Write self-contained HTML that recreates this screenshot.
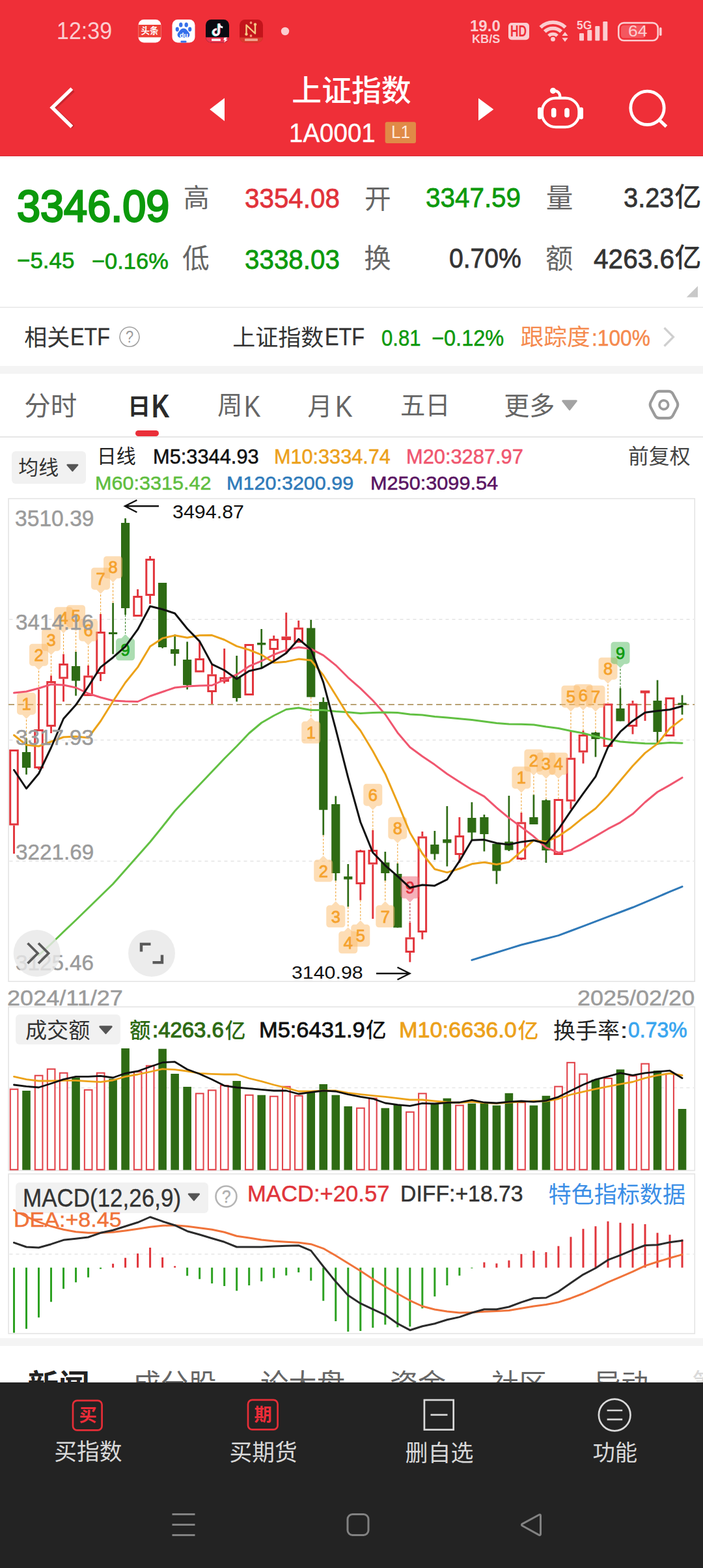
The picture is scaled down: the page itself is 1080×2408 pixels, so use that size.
<!DOCTYPE html>
<html lang="zh-CN"><head><meta charset="utf-8"><meta name="viewport" content="width=1080"><title>上证指数 1A0001</title><style>
html,body{margin:0;padding:0;background:#fff}
body{width:1080px;height:2408px;overflow:hidden;font-family:"Liberation Sans",sans-serif}
#p{position:relative;width:1080px;height:2408px;overflow:hidden;background:#fff}
.t{position:absolute;white-space:nowrap;line-height:1;transform-origin:0 0;display:block}
.r{position:absolute}
.s{position:absolute;overflow:visible;display:block}
.cj{position:absolute;overflow:visible}
.ct{position:absolute;left:0;top:0;white-space:nowrap;line-height:1;font-family:"Liberation Sans","Noto Sans CJK SC",sans-serif}
</style></head><body>
<div id="p">
<div class="r" style="left:0px;top:0px;width:1080px;height:239.5px;background:#EF2F38"></div>
<div class="r" style="left:0px;top:238.6px;width:1080px;height:1.2px;background:#D52B34"></div>
<span class="t" style="left:87.41px;top:29.56px;font-size:36.72px;color:#FBCDD0;transform:scaleX(0.9272)">12:39</span>
<svg class="s" style="left:205px;top:25px" width="245" height="46" viewBox="205 25 245 46">
<rect x="212.5" y="30" width="35" height="35.5" rx="8.5" fill="#fff"/>
<rect x="212.5" y="38" width="35" height="19.300" fill="#EE3F36"/>
<rect x="264.5" y="30" width="35" height="35.5" rx="8.5" fill="#fff"/>
<g fill="#3570EA"><ellipse cx="272.3" cy="45" rx="2.6" ry="3.4"/><ellipse cx="277.8" cy="38.2" rx="2.7" ry="3.6"/><ellipse cx="286.2" cy="38.2" rx="2.7" ry="3.6"/><ellipse cx="291.7" cy="45" rx="2.6" ry="3.4"/>
<path d="M282 43.5c3.6 0 5.2 3 7.2 5.2 2 2.300 2.900 4.200 1.700 6.700-1.200 2.500-4.300 2.700-8.900 2.700s-7.700-.2-8.900-2.700c-1.200-2.500-.3-4.400 1.700-6.700 2-2.200 3.600-5.200 7.200-5.200z"/><rect x="277.5" y="62.5" width="9" height="3" rx="1"/></g>
<rect x="316" y="30" width="36" height="35.500" rx="8.500" fill="#0B0B12"/>
<clipPath id="ctt"><rect x="316" y="30" width="36" height="35.500" rx="8.500"/></clipPath><rect x="316" y="57.300" width="36" height="9" fill="#E8344F" clip-path="url(#ctt)"/><rect x="325" y="59.600" width="14" height="3.400" rx="1" fill="#fff" opacity=".9"/><path d="M344.500 57.800l4.500-.3-2 3.200 2.500.2-5.500 4.500 1.500-3.600-2.300-.2z" fill="#fff"/>
<path d="M336.3 36v13.400a4.300 4.300 0 1 1-3.500-4.200" fill="none" stroke="#35E0E6" stroke-width="3.200" transform="translate(-1,.6)"/>
<path d="M336.3 36v13.400a4.300 4.300 0 1 1-3.500-4.200" fill="none" stroke="#F03A5A" stroke-width="3.200" transform="translate(.9,-.3)"/>
<path d="M336.300 36v13.400a4.300 4.300 0 1 1-3.500-4.200M336.300 36.500c.6 3.200 2.700 5.200 6 5.500" fill="none" stroke="#fff" stroke-width="3"/>
<rect x="368" y="30" width="36" height="35.500" rx="8.500" fill="#C3141B"/>
<clipPath id="cnn"><rect x="368" y="30" width="36" height="35.500" rx="8.500"/></clipPath><rect x="368" y="57.500" width="36" height="9" fill="#DA3A2E" clip-path="url(#cnn)"/>
<path d="M378.500 52.500v-14l13.500 13v-14" fill="none" stroke="#F6C884" stroke-width="2.400" stroke-linejoin="round" stroke-linecap="round"/>
<g fill="#F6C884"><circle cx="378.500" cy="52.500" r="2.200"/><circle cx="392" cy="37.500" r="2.200"/></g>
<g fill="#F59A78"><circle cx="385.500" cy="35" r="1.900"/><circle cx="385.500" cy="55" r="1.900"/></g>
<rect x="376" y="59.300" width="20" height="3.600" rx="1" fill="#F2B7A0" opacity=".85"/>
<circle cx="438" cy="48" r="6.200" fill="#FBCDD0"/>
</svg>
<div class="cj" style="left:216.5px;top:41.3px;width:27px;height:12.9px"><span class="ct" style="font-size:13.5px;color:#fff;font-weight:700">头条</span></div>
<span class="t" style="left:275.77px;top:48.62px;font-size:11.3px;color:#fff;transform:scaleX(0.9366);font-weight:700">du</span>
<span class="t" style="left:722.19px;top:28.44px;font-size:24.01px;color:#FBCDD0;transform:scaleX(1.0015);font-weight:700">19.0</span>
<span class="t" style="left:724.79px;top:50.79px;font-size:18.13px;color:#FBCDD0;transform:scaleX(1.0001);font-weight:700">KB/S</span>
<svg class="s" style="left:775px;top:25px" width="250" height="46" viewBox="775 25 250 46">
<rect x="781" y="35" width="32" height="26.300" rx="5" fill="#FBCDD0"/>
<g fill="none" stroke="#FBCDD0" stroke-width="5.600">
<path d="M830.400 41.900a27.500 27.500 0 0 1 38.200 0"/>
<path d="M836.800 48.600a18.300 18.300 0 0 1 25.400 0"/>
<path d="M842.900 55a9.500 9.500 0 0 1 13.200 0" stroke-width="5"/>
</g>
<circle cx="849.500" cy="60.200" r="3.400" fill="#FBCDD0"/>
<path d="M863.400 55l4.600-6 4.600 6zM863.400 58.300h9.200l-4.600 6z" fill="#FBCDD0"/>
<g fill="#FBCDD0"><rect x="890" y="51" width="7" height="11.500" rx="1.200"/><rect x="902.300" y="46" width="7" height="16.500" rx="1.200"/><rect x="914.300" y="40" width="7" height="22.500" rx="1.200"/><rect x="926.300" y="33" width="7" height="29.500" rx="1.200"/></g>
<rect x="950.300" y="35.100" width="60.500" height="27.200" rx="8" fill="none" stroke="#FBCDD0" stroke-width="2.600"/>
<rect x="954" y="38.800" width="37.500" height="19.800" rx="4.500" fill="#F4575F"/>
<rect x="1013" y="42" width="3.600" height="13" rx="1.800" fill="#FBCDD0"/>
</svg>
<span class="t" style="left:784.33px;top:36.61px;font-size:23.26px;color:#EF2F38;transform:scaleX(0.7502);font-weight:700">HD</span>
<span class="t" style="left:886.46px;top:28.55px;font-size:19.21px;color:#FBCDD0;transform:scaleX(0.9060);font-weight:700">5G</span>
<span class="t" style="left:965.25px;top:36.36px;font-size:24.58px;color:#FBCDD0;transform:scaleX(1.0801)">64</span>
<svg class="s" style="left:60px;top:110px" width="980" height="110" viewBox="60 110 980 110">
<polyline points="111.400,137.300 81.200,165.300 111.400,193.600" fill="none" stroke="#C9252E" stroke-width="6" transform="translate(1.200,1.500)"/>
<polyline points="110.400,136.100 80.200,165.200 110.400,194.800" fill="none" stroke="#fff" stroke-width="5.400"/>
<path d="M322.200 168L345 150.400V186z" fill="#fff"/>
<path d="M758.300 168L735 150.700V185.300z" fill="#fff"/>
<rect x="591.700" y="187.300" width="47.300" height="32.700" rx="3" fill="#E08A47"/>
<g fill="none" stroke="#fff" stroke-width="4.200" stroke-linecap="round">
<rect x="832.900" y="150.600" width="56.600" height="44.500" rx="21" ry="20"/>
<path d="M860.300 150.200c.5-6.500-2.800-10.600-9-10.800"/>
<path d="M850.700 169.500v7.200M871 169.500v7.200" stroke-width="7.600"/>
<path d="M829.200 168v12M892.800 168v12" stroke-width="6.400"/>
<circle cx="994.500" cy="165.800" r="25.700" stroke-width="4.800"/>
<path d="M1012.800 184.200l10.800 10.200" stroke-width="5" stroke-linecap="butt"/>
</g>
<circle cx="849.600" cy="139.300" r="4.600" fill="#fff"/>
</svg>
<div class="cj" style="left:448.3px;top:116.7px;width:183.4px;height:43.3px"><span class="ct" style="font-size:45.85px;color:#fff;font-weight:500">上证指数</span></div>
<span class="t" style="left:443.97px;top:183.51px;font-size:40.4px;color:#fff;transform:scaleX(0.9529);-webkit-text-stroke:0.4px #fff;paint-order:stroke fill">1A0001</span>
<span class="t" style="left:600.56px;top:190.06px;font-size:26.74px;color:#FFE9DC;transform:scaleX(0.9753)">L1</span>
<span class="t" style="left:25.63px;top:282.88px;font-size:68.93px;color:#0C990C;transform:scaleX(0.9406);-webkit-text-stroke:2.8px #0C990C;paint-order:stroke fill">3346.09</span>
<span class="t" style="left:25.93px;top:382.97px;font-size:35.83px;color:#0C990C;transform:scaleX(0.9761);-webkit-text-stroke:0.7px #0C990C;paint-order:stroke fill">−5.45</span>
<span class="t" style="left:141.35px;top:383.41px;font-size:35.31px;color:#0C990C;transform:scaleX(0.9759);-webkit-text-stroke:0.7px #0C990C;paint-order:stroke fill">−0.16%</span>
<div class="cj" style="left:281.7px;top:284px;width:40px;height:41px"><span class="ct" style="font-size:40px;color:#666666">高</span></div>
<div class="cj" style="left:280px;top:377.3px;width:41.7px;height:41px"><span class="ct" style="font-size:41.7px;color:#666666">低</span></div>
<span class="t" style="left:376.16px;top:283.29px;font-size:43.22px;color:#E1323A;transform:scaleX(0.9338);-webkit-text-stroke:0.8px #E1323A;paint-order:stroke fill">3354.08</span>
<span class="t" style="left:376.16px;top:376.71px;font-size:43.08px;color:#0C990C;transform:scaleX(0.9370);-webkit-text-stroke:0.8px #0C990C;paint-order:stroke fill">3338.03</span>
<div class="cj" style="left:560px;top:286px;width:40.7px;height:39px"><span class="ct" style="font-size:40.7px;color:#666666">开</span></div>
<div class="cj" style="left:559.3px;top:377.3px;width:41.4px;height:41px"><span class="ct" style="font-size:41.4px;color:#666666">换</span></div>
<span class="t" style="left:654.36px;top:282.49px;font-size:43.22px;color:#0C990C;transform:scaleX(0.9349);-webkit-text-stroke:0.8px #0C990C;paint-order:stroke fill">3347.59</span>
<span class="t" style="left:689.77px;top:376.36px;font-size:42.09px;color:#333333;transform:scaleX(0.9294);-webkit-text-stroke:0.8px #333333;paint-order:stroke fill">0.70%</span>
<div class="cj" style="left:838.8px;top:284.4px;width:41.6px;height:40px"><span class="ct" style="font-size:41.6px;color:#666666">量</span></div>
<div class="cj" style="left:838px;top:377.3px;width:42.4px;height:39.6px"><span class="ct" style="font-size:42.4px;color:#666666">额</span></div>
<span class="t" style="left:957.88px;top:282.47px;font-size:43.36px;color:#333333;transform:scaleX(0.9179);-webkit-text-stroke:0.8px #333333;paint-order:stroke fill">3.23</span>
<div class="cj" style="left:1036.3px;top:283px;width:41.2px;height:41.7px"><span class="ct" style="font-size:41.2px;color:#333333;font-weight:500">亿</span></div>
<span class="t" style="left:911.67px;top:376.21px;font-size:43.08px;color:#333333;transform:scaleX(0.9420);-webkit-text-stroke:0.8px #333333;paint-order:stroke fill">4263.6</span>
<div class="cj" style="left:1036.3px;top:376.2px;width:41.2px;height:41.3px"><span class="ct" style="font-size:41.2px;color:#333333;font-weight:500">亿</span></div>
<svg class="s" style="left:1050px;top:436px" width="26" height="24" viewBox="1050 436 26 24"><path d="M1072 439.300V456.400H1054.700z" fill="#C8C8C8"/></svg>
<div class="r" style="left:0px;top:471px;width:1080px;height:2px;background:#EDEDED"></div>
<div class="cj" style="left:37.3px;top:500.7px;width:70px;height:34.3px"><span class="ct" style="font-size:35px;color:#333333">相关</span></div>
<span class="t" style="left:107.56px;top:499.85px;font-size:36.92px;color:#333333;transform:scaleX(0.8724);-webkit-text-stroke:0.4px #333333;paint-order:stroke fill">ETF</span>
<svg class="s" style="left:180px;top:498px" width="40" height="40" viewBox="180 498 40 40"><circle cx="199" cy="517.300" r="15" fill="none" stroke="#A0A0A0" stroke-width="1.600"/></svg>
<span class="t" style="left:192.91px;top:504.54px;font-size:25.35px;color:#9A9A9A;transform:scaleX(0.8582)">?</span>
<div class="cj" style="left:357.3px;top:500.7px;width:140px;height:34.3px"><span class="ct" style="font-size:35px;color:#333333">上证指数</span></div>
<span class="t" style="left:499.24px;top:499.85px;font-size:36.92px;color:#333333;transform:scaleX(0.8770);-webkit-text-stroke:0.4px #333333;paint-order:stroke fill">ETF</span>
<span class="t" style="left:585.74px;top:501.82px;font-size:34.6px;color:#0C990C;transform:scaleX(0.8988);-webkit-text-stroke:0.5px #0C990C;paint-order:stroke fill">0.81</span>
<span class="t" style="left:662.65px;top:501.54px;font-size:34.46px;color:#0C990C;transform:scaleX(0.9442);-webkit-text-stroke:0.5px #0C990C;paint-order:stroke fill">−0.12%</span>
<div class="cj" style="left:799.5px;top:501.4px;width:108.9px;height:33.1px"><span class="ct" style="font-size:35.78px;color:#F58A4E">跟踪度</span></div>
<span class="t" style="left:908.86px;top:501.54px;font-size:34.46px;color:#F58A4E;transform:scaleX(0.9192);-webkit-text-stroke:0.5px #F58A4E;paint-order:stroke fill">:100%</span>
<svg class="s" style="left:1010px;top:495px" width="40" height="45" viewBox="1010 495 40 45"><polyline points="1020.500,503.500 1034.500,517.500 1020.500,531.500" fill="none" stroke="#CFCFCF" stroke-width="3.200"/></svg>
<div class="r" style="left:0px;top:562px;width:1080px;height:12px;background:#F4F4F4"></div>
<div class="cj" style="left:37.3px;top:604px;width:81px;height:38.7px"><span class="ct" style="font-size:40.5px;color:#666666">分时</span></div>
<div class="cj" style="left:198.3px;top:606.7px;width:31px;height:35px"><span class="ct" style="font-size:35px;color:#2A2A2A;font-weight:700;left:-2px">日</span></div>
<span class="t" style="left:233.44px;top:599.71px;font-size:49.13px;color:#2A2A2A;transform:scaleX(0.7783);font-weight:700">K</span>
<div class="r" style="left:208.3px;top:660.7px;width:35.7px;height:9.3px;background:#EA2F39;border-radius:5px"></div>
<div class="cj" style="left:334px;top:604px;width:38.5px;height:39px"><span class="ct" style="font-size:38.5px;color:#666666">周</span></div>
<span class="t" style="left:375.35px;top:601.06px;font-size:46.95px;color:#666666;transform:scaleX(0.8168)">K</span>
<div class="cj" style="left:475px;top:604.7px;width:33px;height:38.3px"><span class="ct" style="font-size:38px;color:#666666;left:-2.500px">月</span></div>
<span class="t" style="left:515.21px;top:601.06px;font-size:46.95px;color:#666666;transform:scaleX(0.8539)">K</span>
<div class="cj" style="left:615px;top:606px;width:76.7px;height:35px"><span class="ct" style="font-size:38.35px;color:#666666;top:-2px">五日</span></div>
<div class="cj" style="left:774.2px;top:603.8px;width:78.2px;height:39.7px"><span class="ct" style="font-size:39.1px;color:#666666">更多</span></div>
<svg class="s" style="left:860px;top:595px" width="200" height="55" viewBox="860 595 200 55">
<path d="M864.700 614.200h20.600a1.500 1.500 0 0 1 1.200 2.400l-10.200 13a1.600 1.600 0 0 1-2.600 0l-10.200-13a1.500 1.500 0 0 1 1.200-2.400z" fill="#A3A3A3"/>
<path d="M999.9 625.9Q997.6 621.5 999.9 617.1L1006.1 605.3Q1008.4 600.9 1013.4 600.9L1026.6 600.9Q1031.6 600.9 1033.9 605.3L1040.1 617.1Q1042.4 621.5 1040.1 625.9L1033.9 637.7Q1031.6 642.1 1026.6 642.1L1013.4 642.1Q1008.4 642.1 1006.1 637.7Z" fill="none" stroke="#9B9B9B" stroke-width="4.200"/>
<circle cx="1019.800" cy="621.700" r="6.800" fill="none" stroke="#9B9B9B" stroke-width="3.800"/>
</svg>
<div class="r" style="left:0px;top:670px;width:1080px;height:1.5px;background:#E6E6E6"></div>
<div class="r" style="left:18.3px;top:693.3px;width:113.4px;height:49.4px;background:#F1F1F1;border-radius:6px"></div>
<div class="cj" style="left:28.3px;top:704px;width:61.7px;height:31px"><span class="ct" style="font-size:30.85px;color:#333333">均线</span></div>
<svg class="s" style="left:98px;top:706px" width="28" height="24" viewBox="98 706 28 24"><path d="M103.600 712.700h15.600a1.200 1.200 0 0 1 .9 2l-7.800 9a1.200 1.200 0 0 1-1.800 0l-7.800-9a1.200 1.200 0 0 1 .9-2z" fill="#555"/></svg>
<div class="cj" style="left:151.7px;top:687.3px;width:57.600px;height:27.7px"><span class="ct" style="font-size:30px;color:#222;left:-3px;top:-1px">日线</span></div>
<span class="t" style="left:235.05px;top:685.64px;font-size:31.28px;color:#111;transform:scaleX(0.9848);-webkit-text-stroke:0.55px #111;paint-order:stroke fill">M5:3344.93</span>
<span class="t" style="left:421.06px;top:685.64px;font-size:31.28px;color:#ECA11B;transform:scaleX(0.9793);-webkit-text-stroke:0.55px #ECA11B;paint-order:stroke fill">M10:3334.74</span>
<span class="t" style="left:624.05px;top:685.64px;font-size:31.28px;color:#F0566F;transform:scaleX(0.9852);-webkit-text-stroke:0.55px #F0566F;paint-order:stroke fill">M20:3287.97</span>
<div class="cj" style="left:965px;top:685.5px;width:95.5px;height:30.5px"><span class="ct" style="font-size:31.83px;color:#444">前复权</span></div>
<span class="t" style="left:146.07px;top:727.03px;font-size:30.01px;color:#60BE3F;transform:scaleX(1.0187);-webkit-text-stroke:0.55px #60BE3F;paint-order:stroke fill">M60:3315.42</span>
<span class="t" style="left:348.47px;top:727.03px;font-size:30.01px;color:#2F7BBA;transform:scaleX(1.0182);-webkit-text-stroke:0.55px #2F7BBA;paint-order:stroke fill">M120:3200.99</span>
<span class="t" style="left:568.76px;top:727.03px;font-size:30.01px;color:#5A1462;transform:scaleX(1.0222);-webkit-text-stroke:0.55px #5A1462;paint-order:stroke fill">M250:3099.54</span>
<svg class="s" style="left:0px;top:760px" width="1080" height="760" viewBox="0 760 1080 760"><g font-family="Liberation Sans, sans-serif" font-size="25.500" text-anchor="middle"><rect x="13.100" y="765.700" width="1054.200" height="741.500" fill="none" stroke="#E4E4E4" stroke-width="1.600"/><line x1="14.500" x2="1066" y1="951.2" y2="951.2" stroke="#E3E3E3" stroke-width="1.400" stroke-dasharray="5 5"/><line x1="14.500" x2="1066" y1="1136.5" y2="1136.5" stroke="#E3E3E3" stroke-width="1.400" stroke-dasharray="5 5"/><line x1="14.500" x2="1066" y1="1322.5" y2="1322.5" stroke="#E3E3E3" stroke-width="1.400" stroke-dasharray="5 5"/><line x1="13" x2="1067" y1="1082" y2="1082" stroke="#B9A173" stroke-width="2" stroke-dasharray="9 5.600"/><line x1="21.5" x2="21.5" y1="1267.5" y2="1311" stroke="#E2353C" stroke-width="2.900"/><rect x="15.7" y="1152.5" width="11.600" height="113.5" fill="#fff" stroke="#E2353C" stroke-width="3"/><line x1="40.51" x2="40.51" y1="1134" y2="1189.5" stroke="#2E6B14" stroke-width="2.700"/><rect x="33.91" y="1155" width="13.200" height="24" fill="#2E6B14"/><line x1="59.52" x2="59.52" y1="1059" y2="1120" stroke="#E2353C" stroke-width="2.900"/><line x1="59.52" x2="59.52" y1="1180" y2="1182" stroke="#E2353C" stroke-width="2.900"/><rect x="53.72" y="1121.5" width="11.600" height="57" fill="#fff" stroke="#E2353C" stroke-width="3"/><line x1="78.53" x2="78.53" y1="1037.5" y2="1046" stroke="#E2353C" stroke-width="2.900"/><line x1="78.53" x2="78.53" y1="1116" y2="1126" stroke="#E2353C" stroke-width="2.900"/><rect x="72.73" y="1047.5" width="11.600" height="67" fill="#fff" stroke="#E2353C" stroke-width="3"/><line x1="97.54" x2="97.54" y1="1004.5" y2="1019" stroke="#E2353C" stroke-width="2.900"/><line x1="97.54" x2="97.54" y1="1042.5" y2="1077.5" stroke="#E2353C" stroke-width="2.900"/><rect x="91.74" y="1020.5" width="11.600" height="20.5" fill="#fff" stroke="#E2353C" stroke-width="3"/><line x1="116.55" x2="116.55" y1="1001" y2="1068.5" stroke="#2E6B14" stroke-width="2.700"/><rect x="109.95" y="1023" width="13.200" height="22.5" fill="#2E6B14"/><line x1="135.56" x2="135.56" y1="1022" y2="1037.5" stroke="#E2353C" stroke-width="2.900"/><rect x="129.76" y="1039" width="11.600" height="28.5" fill="#fff" stroke="#E2353C" stroke-width="3"/><line x1="154.57" x2="154.57" y1="943" y2="970" stroke="#E2353C" stroke-width="2.900"/><line x1="154.57" x2="154.57" y1="1035" y2="1046" stroke="#E2353C" stroke-width="2.900"/><rect x="148.77" y="971.5" width="11.600" height="62" fill="#fff" stroke="#E2353C" stroke-width="3"/><line x1="173.58" x2="173.58" y1="926" y2="1004.5" stroke="#2E6B14" stroke-width="2.700"/><rect x="166.98" y="971" width="13.200" height="3" fill="#2E6B14"/><line x1="192.59" x2="192.59" y1="796" y2="944" stroke="#2E6B14" stroke-width="2.700"/><rect x="185.99" y="803" width="13.200" height="131" fill="#2E6B14"/><line x1="211.6" x2="211.6" y1="905" y2="915" stroke="#E2353C" stroke-width="2.900"/><rect x="205.8" y="916.5" width="11.600" height="29" fill="#fff" stroke="#E2353C" stroke-width="3"/><line x1="230.61" x2="230.61" y1="854" y2="858" stroke="#E2353C" stroke-width="2.900"/><line x1="230.61" x2="230.61" y1="915" y2="927.5" stroke="#E2353C" stroke-width="2.900"/><rect x="224.81" y="859.5" width="11.600" height="54" fill="#fff" stroke="#E2353C" stroke-width="3"/><line x1="249.62" x2="249.62" y1="895" y2="995.5" stroke="#2E6B14" stroke-width="2.700"/><rect x="243.02" y="895" width="13.200" height="99" fill="#2E6B14"/><line x1="268.63" x2="268.63" y1="974.5" y2="1022.5" stroke="#2E6B14" stroke-width="2.700"/><rect x="262.03" y="997" width="13.200" height="7" fill="#2E6B14"/><line x1="287.64" x2="287.64" y1="985.5" y2="1058.75" stroke="#2E6B14" stroke-width="2.700"/><rect x="281.04" y="1013" width="13.200" height="39" fill="#2E6B14"/><line x1="306.65" x2="306.65" y1="985" y2="1011" stroke="#E2353C" stroke-width="2.900"/><rect x="300.85" y="1012.5" width="11.600" height="18.5" fill="#fff" stroke="#E2353C" stroke-width="3"/><line x1="325.66" x2="325.66" y1="1021" y2="1035.5" stroke="#E2353C" stroke-width="2.900"/><line x1="325.66" x2="325.66" y1="1063" y2="1081" stroke="#E2353C" stroke-width="2.900"/><rect x="319.86" y="1037" width="11.600" height="24.5" fill="#fff" stroke="#E2353C" stroke-width="3"/><line x1="344.67" x2="344.67" y1="996" y2="1040" stroke="#E2353C" stroke-width="2.900"/><line x1="344.67" x2="344.67" y1="1047" y2="1049.5" stroke="#E2353C" stroke-width="2.900"/><rect x="338.87" y="1041.5" width="11.600" height="4" fill="#fff" stroke="#E2353C" stroke-width="3"/><line x1="363.68" x2="363.68" y1="1007" y2="1077.5" stroke="#2E6B14" stroke-width="2.700"/><rect x="357.08" y="1040" width="13.200" height="32" fill="#2E6B14"/><rect x="376.89" y="990.5" width="11.600" height="76" fill="#fff" stroke="#E2353C" stroke-width="3"/><line x1="401.7" x2="401.7" y1="966" y2="1026" stroke="#2E6B14" stroke-width="2.700"/><rect x="395.1" y="987" width="13.200" height="3.5" fill="#2E6B14"/><line x1="420.71" x2="420.71" y1="976" y2="981" stroke="#E2353C" stroke-width="2.900"/><line x1="420.71" x2="420.71" y1="998" y2="1015" stroke="#E2353C" stroke-width="2.900"/><rect x="414.91" y="982.5" width="11.600" height="14" fill="#fff" stroke="#E2353C" stroke-width="3"/><line x1="439.72" x2="439.72" y1="940.75" y2="977.5" stroke="#E2353C" stroke-width="2.900"/><line x1="439.72" x2="439.72" y1="983" y2="1003.75" stroke="#E2353C" stroke-width="2.900"/><rect x="433.92" y="979" width="11.600" height="2.5" fill="#fff" stroke="#E2353C" stroke-width="3"/><line x1="458.73" x2="458.73" y1="953" y2="963.75" stroke="#E2353C" stroke-width="2.900"/><rect x="452.93" y="965.25" width="11.600" height="20.25" fill="#fff" stroke="#E2353C" stroke-width="3"/><line x1="477.74" x2="477.74" y1="952" y2="1070.5" stroke="#2E6B14" stroke-width="2.700"/><rect x="471.14" y="964.5" width="13.200" height="106" fill="#2E6B14"/><line x1="496.75" x2="496.75" y1="1071" y2="1282.5" stroke="#2E6B14" stroke-width="2.700"/><rect x="490.15" y="1078" width="13.200" height="165.75" fill="#2E6B14"/><line x1="515.76" x2="515.76" y1="1222.5" y2="1352.5" stroke="#2E6B14" stroke-width="2.700"/><rect x="509.16" y="1235" width="13.200" height="106" fill="#2E6B14"/><line x1="534.77" x2="534.77" y1="1327" y2="1392.5" stroke="#2E6B14" stroke-width="2.700"/><rect x="528.17" y="1346" width="13.200" height="4.5" fill="#2E6B14"/><line x1="553.78" x2="553.78" y1="1305" y2="1306" stroke="#E2353C" stroke-width="2.900"/><line x1="553.78" x2="553.78" y1="1358" y2="1382.5" stroke="#E2353C" stroke-width="2.900"/><rect x="547.98" y="1307.5" width="11.600" height="49" fill="#fff" stroke="#E2353C" stroke-width="3"/><line x1="572.79" x2="572.79" y1="1275" y2="1305" stroke="#E2353C" stroke-width="2.900"/><line x1="572.79" x2="572.79" y1="1327.5" y2="1411" stroke="#E2353C" stroke-width="2.900"/><rect x="566.99" y="1306.5" width="11.600" height="19.5" fill="#fff" stroke="#E2353C" stroke-width="3"/><line x1="591.8" x2="591.8" y1="1308" y2="1352.5" stroke="#2E6B14" stroke-width="2.700"/><rect x="585.2" y="1324.5" width="13.200" height="16.5" fill="#2E6B14"/><line x1="610.81" x2="610.81" y1="1326" y2="1424.5" stroke="#2E6B14" stroke-width="2.700"/><rect x="604.21" y="1342" width="13.200" height="82.5" fill="#2E6B14"/><line x1="629.82" x2="629.82" y1="1417" y2="1439.5" stroke="#E2353C" stroke-width="2.900"/><line x1="629.82" x2="629.82" y1="1463" y2="1477.5" stroke="#E2353C" stroke-width="2.900"/><rect x="624.02" y="1441" width="11.600" height="20.5" fill="#fff" stroke="#E2353C" stroke-width="3"/><line x1="648.83" x2="648.83" y1="1277" y2="1284.5" stroke="#E2353C" stroke-width="2.900"/><line x1="648.83" x2="648.83" y1="1432" y2="1442.5" stroke="#E2353C" stroke-width="2.900"/><rect x="643.03" y="1286" width="11.600" height="144.5" fill="#fff" stroke="#E2353C" stroke-width="3"/><line x1="667.84" x2="667.84" y1="1276" y2="1320.5" stroke="#2E6B14" stroke-width="2.700"/><rect x="661.24" y="1297" width="13.200" height="14.5" fill="#2E6B14"/><line x1="686.85" x2="686.85" y1="1238" y2="1330.5" stroke="#2E6B14" stroke-width="2.700"/><rect x="680.25" y="1289" width="13.200" height="5.5" fill="#2E6B14"/><line x1="705.86" x2="705.86" y1="1255" y2="1283" stroke="#E2353C" stroke-width="2.900"/><line x1="705.86" x2="705.86" y1="1313" y2="1325" stroke="#E2353C" stroke-width="2.900"/><rect x="700.06" y="1284.5" width="11.600" height="27" fill="#fff" stroke="#E2353C" stroke-width="3"/><line x1="724.87" x2="724.87" y1="1232" y2="1289.5" stroke="#2E6B14" stroke-width="2.700"/><rect x="718.27" y="1256" width="13.200" height="22.5" fill="#2E6B14"/><line x1="743.88" x2="743.88" y1="1251" y2="1307.5" stroke="#2E6B14" stroke-width="2.700"/><rect x="737.28" y="1255" width="13.200" height="26" fill="#2E6B14"/><line x1="762.89" x2="762.89" y1="1296" y2="1357.5" stroke="#2E6B14" stroke-width="2.700"/><rect x="756.29" y="1296" width="13.200" height="41.5" fill="#2E6B14"/><line x1="781.9" x2="781.9" y1="1222" y2="1307" stroke="#2E6B14" stroke-width="2.700"/><rect x="775.3" y="1292.5" width="13.200" height="13" fill="#2E6B14"/><line x1="800.91" x2="800.91" y1="1248" y2="1262.5" stroke="#E2353C" stroke-width="2.900"/><line x1="800.91" x2="800.91" y1="1320" y2="1321" stroke="#E2353C" stroke-width="2.900"/><rect x="795.11" y="1264" width="11.600" height="54.5" fill="#fff" stroke="#E2353C" stroke-width="3"/><line x1="819.92" x2="819.92" y1="1220.5" y2="1266" stroke="#2E6B14" stroke-width="2.700"/><rect x="813.32" y="1255" width="13.200" height="11" fill="#2E6B14"/><line x1="838.93" x2="838.93" y1="1227.5" y2="1325" stroke="#2E6B14" stroke-width="2.700"/><rect x="832.33" y="1229" width="13.200" height="77" fill="#2E6B14"/><rect x="852.14" y="1228.5" width="11.600" height="83" fill="#fff" stroke="#E2353C" stroke-width="3"/><line x1="876.95" x2="876.95" y1="1122.5" y2="1163.75" stroke="#E2353C" stroke-width="2.900"/><line x1="876.95" x2="876.95" y1="1230.75" y2="1242.5" stroke="#E2353C" stroke-width="2.900"/><rect x="871.15" y="1165.25" width="11.600" height="64" fill="#fff" stroke="#E2353C" stroke-width="3"/><line x1="895.96" x2="895.96" y1="1122" y2="1128" stroke="#E2353C" stroke-width="2.900"/><line x1="895.96" x2="895.96" y1="1155.5" y2="1172.5" stroke="#E2353C" stroke-width="2.900"/><rect x="890.16" y="1129.5" width="11.600" height="24.5" fill="#fff" stroke="#E2353C" stroke-width="3"/><line x1="914.97" x2="914.97" y1="1124" y2="1162.5" stroke="#2E6B14" stroke-width="2.700"/><rect x="908.37" y="1125" width="13.200" height="10" fill="#2E6B14"/><rect x="928.18" y="1082" width="11.600" height="63.5" fill="#fff" stroke="#E2353C" stroke-width="3"/><line x1="952.99" x2="952.99" y1="1057" y2="1107.5" stroke="#2E6B14" stroke-width="2.700"/><rect x="946.39" y="1088" width="13.200" height="19.5" fill="#2E6B14"/><line x1="972" x2="972" y1="1076" y2="1080.5" stroke="#E2353C" stroke-width="2.900"/><line x1="972" x2="972" y1="1116" y2="1127.5" stroke="#E2353C" stroke-width="2.900"/><rect x="966.2" y="1082" width="11.600" height="32.5" fill="#fff" stroke="#E2353C" stroke-width="3"/><line x1="991.01" x2="991.01" y1="1064" y2="1107" stroke="#E2353C" stroke-width="2.900"/><rect x="983.71" y="1060.4" width="14.600" height="4.2" fill="#E2353C"/><line x1="1010.02" x2="1010.02" y1="1044.5" y2="1143.75" stroke="#2E6B14" stroke-width="2.700"/><rect x="1003.42" y="1076" width="13.200" height="48" fill="#2E6B14"/><rect x="1023.23" y="1072.5" width="11.600" height="57" fill="#fff" stroke="#E2353C" stroke-width="3"/><line x1="1048.04" x2="1048.04" y1="1067.5" y2="1097.5" stroke="#2E6B14" stroke-width="2.700"/><rect x="1041.44" y="1079.5" width="13.200" height="3" fill="#2E6B14"/><line x1="40.51" x2="40.51" y1="1105" y2="1134" stroke="#F0A63A" stroke-width="1.100" stroke-dasharray="3.200 2.200"/><path d="M30.81 1063.7h19.400a4.800 4.800 0 0 1 4.800 4.800v24.400a4.800 4.800 0 0 1-4.800 4.800h-3.600l-6.100 6.300-6.100-6.300h-3.600a4.800 4.800 0 0 1-4.800-4.800v-24.400a4.800 4.800 0 0 1 4.800-4.800z" fill="rgba(252,188,108,.5)"/><line x1="59.52" x2="59.52" y1="1030" y2="1059" stroke="#F0A63A" stroke-width="1.100" stroke-dasharray="3.200 2.200"/><path d="M49.82 988.7h19.400a4.800 4.800 0 0 1 4.800 4.800v24.400a4.800 4.800 0 0 1-4.800 4.800h-3.600l-6.100 6.300-6.100-6.300h-3.600a4.800 4.800 0 0 1-4.800-4.800v-24.400a4.800 4.800 0 0 1 4.800-4.800z" fill="rgba(252,188,108,.5)"/><line x1="78.53" x2="78.53" y1="1007" y2="1037.5" stroke="#F0A63A" stroke-width="1.100" stroke-dasharray="3.200 2.200"/><path d="M68.83 965.7h19.400a4.800 4.800 0 0 1 4.800 4.800v24.400a4.800 4.800 0 0 1-4.800 4.800h-3.600l-6.100 6.300-6.100-6.300h-3.600a4.800 4.800 0 0 1-4.800-4.800v-24.400a4.800 4.800 0 0 1 4.800-4.800z" fill="rgba(252,188,108,.5)"/><line x1="97.54" x2="97.54" y1="973.5" y2="1004.5" stroke="#F0A63A" stroke-width="1.100" stroke-dasharray="3.200 2.200"/><path d="M87.84 932.2h19.400a4.800 4.800 0 0 1 4.800 4.800v24.400a4.800 4.800 0 0 1-4.800 4.800h-3.600l-6.100 6.300-6.100-6.300h-3.600a4.800 4.800 0 0 1-4.800-4.800v-24.400a4.800 4.800 0 0 1 4.800-4.800z" fill="rgba(252,188,108,.5)"/><line x1="116.55" x2="116.55" y1="970.5" y2="1001" stroke="#F0A63A" stroke-width="1.100" stroke-dasharray="3.200 2.200"/><path d="M106.85 929.2h19.400a4.800 4.800 0 0 1 4.800 4.800v24.400a4.800 4.800 0 0 1-4.800 4.800h-3.600l-6.100 6.300-6.100-6.300h-3.600a4.800 4.800 0 0 1-4.800-4.800v-24.400a4.800 4.800 0 0 1 4.800-4.800z" fill="rgba(252,188,108,.5)"/><line x1="135.56" x2="135.56" y1="992" y2="1022" stroke="#F0A63A" stroke-width="1.100" stroke-dasharray="3.200 2.200"/><path d="M125.86 950.7h19.400a4.800 4.800 0 0 1 4.800 4.800v24.400a4.800 4.800 0 0 1-4.800 4.800h-3.600l-6.100 6.300-6.100-6.300h-3.600a4.800 4.800 0 0 1-4.800-4.800v-24.400a4.800 4.800 0 0 1 4.800-4.800z" fill="rgba(252,188,108,.5)"/><line x1="154.57" x2="154.57" y1="913" y2="943" stroke="#F0A63A" stroke-width="1.100" stroke-dasharray="3.200 2.200"/><path d="M144.87 871.7h19.400a4.800 4.800 0 0 1 4.800 4.800v24.400a4.800 4.800 0 0 1-4.800 4.800h-3.600l-6.100 6.300-6.100-6.300h-3.600a4.800 4.800 0 0 1-4.800-4.800v-24.400a4.800 4.800 0 0 1 4.800-4.800z" fill="rgba(252,188,108,.5)"/><line x1="173.58" x2="173.58" y1="895.5" y2="926" stroke="#F0A63A" stroke-width="1.100" stroke-dasharray="3.200 2.200"/><path d="M163.88 854.2h19.400a4.800 4.800 0 0 1 4.800 4.800v24.400a4.800 4.800 0 0 1-4.800 4.800h-3.600l-6.100 6.300-6.100-6.300h-3.600a4.800 4.800 0 0 1-4.800-4.800v-24.400a4.800 4.800 0 0 1 4.800-4.800z" fill="rgba(252,188,108,.5)"/><line x1="192.59" x2="192.59" y1="944" y2="973" stroke="#2E7D1E" stroke-width="1.100" stroke-dasharray="3.200 2.200"/><path d="M182.89 1014.3h19.400a4.800 4.800 0 0 0 4.800-4.800v-24.400a4.800 4.800 0 0 0-4.800-4.800h-3.600l-6.100-6.300-6.100 6.300h-3.600a4.800 4.800 0 0 0-4.800 4.800v24.400a4.800 4.800 0 0 0 4.800 4.800z" fill="rgba(88,188,100,.5)"/><line x1="477.74" x2="477.74" y1="1070.5" y2="1100.5" stroke="#F0A63A" stroke-width="1.100" stroke-dasharray="3.200 2.200"/><path d="M468.04 1141.8h19.400a4.800 4.800 0 0 0 4.800-4.800v-24.400a4.800 4.800 0 0 0-4.800-4.800h-3.600l-6.100-6.300-6.100 6.300h-3.600a4.800 4.800 0 0 0-4.800 4.800v24.400a4.800 4.800 0 0 0 4.800 4.800z" fill="rgba(252,188,108,.5)"/><line x1="496.75" x2="496.75" y1="1282.5" y2="1313" stroke="#F0A63A" stroke-width="1.100" stroke-dasharray="3.200 2.200"/><path d="M487.05 1354.3h19.400a4.800 4.800 0 0 0 4.800-4.800v-24.400a4.800 4.800 0 0 0-4.800-4.800h-3.600l-6.100-6.300-6.100 6.300h-3.600a4.800 4.800 0 0 0-4.800 4.800v24.400a4.800 4.800 0 0 0 4.800 4.800z" fill="rgba(252,188,108,.5)"/><line x1="515.76" x2="515.76" y1="1352.5" y2="1383" stroke="#F0A63A" stroke-width="1.100" stroke-dasharray="3.200 2.200"/><path d="M506.06 1424.3h19.400a4.800 4.800 0 0 0 4.800-4.800v-24.400a4.800 4.800 0 0 0-4.800-4.800h-3.600l-6.100-6.300-6.100 6.300h-3.600a4.800 4.800 0 0 0-4.800 4.800v24.400a4.800 4.800 0 0 0 4.800 4.800z" fill="rgba(252,188,108,.5)"/><line x1="534.77" x2="534.77" y1="1392.5" y2="1423" stroke="#F0A63A" stroke-width="1.100" stroke-dasharray="3.200 2.200"/><path d="M525.07 1464.3h19.400a4.800 4.800 0 0 0 4.800-4.800v-24.400a4.800 4.800 0 0 0-4.800-4.800h-3.600l-6.100-6.300-6.100 6.300h-3.600a4.800 4.800 0 0 0-4.800 4.800v24.400a4.800 4.800 0 0 0 4.800 4.800z" fill="rgba(252,188,108,.5)"/><line x1="553.78" x2="553.78" y1="1382.5" y2="1412.5" stroke="#F0A63A" stroke-width="1.100" stroke-dasharray="3.200 2.200"/><path d="M544.08 1453.8h19.400a4.800 4.800 0 0 0 4.800-4.800v-24.400a4.800 4.800 0 0 0-4.800-4.800h-3.600l-6.100-6.300-6.100 6.300h-3.600a4.800 4.800 0 0 0-4.800 4.800v24.400a4.800 4.800 0 0 0 4.800 4.800z" fill="rgba(252,188,108,.5)"/><line x1="572.79" x2="572.79" y1="1245" y2="1275" stroke="#F0A63A" stroke-width="1.100" stroke-dasharray="3.200 2.200"/><path d="M563.09 1203.7h19.400a4.800 4.800 0 0 1 4.800 4.800v24.400a4.800 4.800 0 0 1-4.800 4.800h-3.600l-6.100 6.300-6.100-6.300h-3.600a4.800 4.800 0 0 1-4.800-4.800v-24.400a4.800 4.800 0 0 1 4.800-4.800z" fill="rgba(252,188,108,.5)"/><line x1="591.8" x2="591.8" y1="1352.5" y2="1383" stroke="#F0A63A" stroke-width="1.100" stroke-dasharray="3.200 2.200"/><path d="M582.1 1424.3h19.400a4.800 4.800 0 0 0 4.800-4.800v-24.400a4.800 4.800 0 0 0-4.800-4.800h-3.600l-6.100-6.300-6.100 6.300h-3.600a4.800 4.800 0 0 0-4.800 4.800v24.400a4.800 4.800 0 0 0 4.800 4.800z" fill="rgba(252,188,108,.5)"/><line x1="610.81" x2="610.81" y1="1296" y2="1326" stroke="#F0A63A" stroke-width="1.100" stroke-dasharray="3.200 2.200"/><path d="M601.11 1254.7h19.400a4.800 4.800 0 0 1 4.800 4.800v24.400a4.800 4.800 0 0 1-4.800 4.800h-3.600l-6.100 6.300-6.100-6.300h-3.600a4.800 4.800 0 0 1-4.800-4.800v-24.400a4.800 4.800 0 0 1 4.800-4.800z" fill="rgba(252,188,108,.5)"/><line x1="629.82" x2="629.82" y1="1387" y2="1417" stroke="#B5303A" stroke-width="1.100" stroke-dasharray="3.200 2.200"/><path d="M620.12 1345.7h19.400a4.800 4.800 0 0 1 4.800 4.800v24.400a4.800 4.800 0 0 1-4.800 4.800h-3.600l-6.100 6.300-6.100-6.300h-3.600a4.800 4.800 0 0 1-4.800-4.800v-24.400a4.800 4.800 0 0 1 4.800-4.800z" fill="rgba(236,100,116,.5)"/><line x1="800.91" x2="800.91" y1="1218.5" y2="1248" stroke="#F0A63A" stroke-width="1.100" stroke-dasharray="3.200 2.200"/><path d="M791.21 1177.2h19.400a4.800 4.800 0 0 1 4.800 4.800v24.400a4.800 4.800 0 0 1-4.800 4.800h-3.600l-6.100 6.300-6.100-6.300h-3.600a4.800 4.800 0 0 1-4.800-4.800v-24.400a4.800 4.800 0 0 1 4.800-4.800z" fill="rgba(252,188,108,.5)"/><line x1="819.92" x2="819.92" y1="1192" y2="1220.5" stroke="#F0A63A" stroke-width="1.100" stroke-dasharray="3.200 2.200"/><path d="M810.22 1150.7h19.400a4.800 4.800 0 0 1 4.800 4.800v24.400a4.800 4.800 0 0 1-4.800 4.800h-3.600l-6.100 6.300-6.100-6.300h-3.600a4.800 4.800 0 0 1-4.800-4.800v-24.400a4.800 4.800 0 0 1 4.800-4.800z" fill="rgba(252,188,108,.5)"/><line x1="838.93" x2="838.93" y1="1197" y2="1227.5" stroke="#F0A63A" stroke-width="1.100" stroke-dasharray="3.200 2.200"/><path d="M829.23 1155.7h19.400a4.800 4.800 0 0 1 4.800 4.800v24.400a4.800 4.800 0 0 1-4.800 4.800h-3.600l-6.100 6.300-6.100-6.300h-3.600a4.800 4.800 0 0 1-4.800-4.800v-24.400a4.800 4.800 0 0 1 4.800-4.800z" fill="rgba(252,188,108,.5)"/><line x1="857.94" x2="857.94" y1="1197" y2="1227" stroke="#F0A63A" stroke-width="1.100" stroke-dasharray="3.200 2.200"/><path d="M848.24 1155.7h19.400a4.800 4.800 0 0 1 4.800 4.800v24.400a4.800 4.800 0 0 1-4.800 4.800h-3.600l-6.100 6.300-6.100-6.300h-3.600a4.800 4.800 0 0 1-4.800-4.800v-24.400a4.800 4.800 0 0 1 4.800-4.800z" fill="rgba(252,188,108,.5)"/><line x1="876.95" x2="876.95" y1="1094" y2="1122.5" stroke="#F0A63A" stroke-width="1.100" stroke-dasharray="3.200 2.200"/><path d="M867.25 1052.7h19.400a4.800 4.800 0 0 1 4.800 4.800v24.400a4.800 4.800 0 0 1-4.800 4.800h-3.600l-6.100 6.300-6.100-6.300h-3.600a4.800 4.800 0 0 1-4.800-4.800v-24.400a4.800 4.800 0 0 1 4.800-4.800z" fill="rgba(252,188,108,.5)"/><line x1="895.96" x2="895.96" y1="1092" y2="1122" stroke="#F0A63A" stroke-width="1.100" stroke-dasharray="3.200 2.200"/><path d="M886.26 1050.7h19.400a4.800 4.800 0 0 1 4.800 4.800v24.400a4.800 4.800 0 0 1-4.800 4.800h-3.600l-6.100 6.300-6.100-6.300h-3.600a4.800 4.800 0 0 1-4.800-4.800v-24.400a4.800 4.800 0 0 1 4.800-4.800z" fill="rgba(252,188,108,.5)"/><line x1="914.97" x2="914.97" y1="1094" y2="1124" stroke="#F0A63A" stroke-width="1.100" stroke-dasharray="3.200 2.200"/><path d="M905.27 1052.7h19.400a4.800 4.800 0 0 1 4.800 4.800v24.400a4.800 4.800 0 0 1-4.800 4.800h-3.600l-6.100 6.300-6.100-6.300h-3.600a4.800 4.800 0 0 1-4.800-4.800v-24.400a4.800 4.800 0 0 1 4.800-4.800z" fill="rgba(252,188,108,.5)"/><line x1="933.98" x2="933.98" y1="1051" y2="1080.5" stroke="#F0A63A" stroke-width="1.100" stroke-dasharray="3.200 2.200"/><path d="M924.28 1009.7h19.400a4.800 4.800 0 0 1 4.800 4.800v24.400a4.800 4.800 0 0 1-4.800 4.800h-3.600l-6.100 6.300-6.100-6.300h-3.600a4.800 4.800 0 0 1-4.800-4.800v-24.400a4.800 4.800 0 0 1 4.800-4.800z" fill="rgba(252,188,108,.5)"/><line x1="952.99" x2="952.99" y1="1027" y2="1057" stroke="#2E7D1E" stroke-width="1.100" stroke-dasharray="3.200 2.200"/><path d="M943.29 985.7h19.400a4.800 4.800 0 0 1 4.800 4.800v24.400a4.800 4.800 0 0 1-4.800 4.800h-3.600l-6.100 6.300-6.100-6.300h-3.600a4.800 4.800 0 0 1-4.800-4.800v-24.400a4.800 4.800 0 0 1 4.800-4.800z" fill="rgba(88,188,100,.5)"/><text x="40.51" y="1089.9" fill="#F5A22D" stroke="#F5A22D" stroke-width=".800">1</text><text x="59.52" y="1014.9" fill="#F5A22D" stroke="#F5A22D" stroke-width=".800">2</text><text x="78.53" y="991.9" fill="#F5A22D" stroke="#F5A22D" stroke-width=".800">3</text><text x="97.54" y="958.4" fill="#F5A22D" stroke="#F5A22D" stroke-width=".800">4</text><text x="116.55" y="955.4" fill="#F5A22D" stroke="#F5A22D" stroke-width=".800">5</text><text x="135.56" y="976.9" fill="#F5A22D" stroke="#F5A22D" stroke-width=".800">6</text><text x="154.57" y="897.9" fill="#F5A22D" stroke="#F5A22D" stroke-width=".800">7</text><text x="173.58" y="880.4" fill="#F5A22D" stroke="#F5A22D" stroke-width=".800">8</text><text x="192.59" y="1006.5" fill="#0E9A0E" stroke="#0E9A0E" stroke-width=".800">9</text><text x="477.74" y="1134" fill="#F5A22D" stroke="#F5A22D" stroke-width=".800">1</text><text x="496.75" y="1346.5" fill="#F5A22D" stroke="#F5A22D" stroke-width=".800">2</text><text x="515.76" y="1416.5" fill="#F5A22D" stroke="#F5A22D" stroke-width=".800">3</text><text x="534.77" y="1456.5" fill="#F5A22D" stroke="#F5A22D" stroke-width=".800">4</text><text x="553.78" y="1446" fill="#F5A22D" stroke="#F5A22D" stroke-width=".800">5</text><text x="572.79" y="1229.9" fill="#F5A22D" stroke="#F5A22D" stroke-width=".800">6</text><text x="591.8" y="1416.5" fill="#F5A22D" stroke="#F5A22D" stroke-width=".800">7</text><text x="610.81" y="1280.9" fill="#F5A22D" stroke="#F5A22D" stroke-width=".800">8</text><text x="629.82" y="1371.9" fill="#E2333F" stroke="#E2333F" stroke-width=".800">9</text><text x="800.91" y="1203.4" fill="#F5A22D" stroke="#F5A22D" stroke-width=".800">1</text><text x="819.92" y="1176.9" fill="#F5A22D" stroke="#F5A22D" stroke-width=".800">2</text><text x="838.93" y="1181.9" fill="#F5A22D" stroke="#F5A22D" stroke-width=".800">3</text><text x="857.94" y="1181.9" fill="#F5A22D" stroke="#F5A22D" stroke-width=".800">4</text><text x="876.95" y="1078.9" fill="#F5A22D" stroke="#F5A22D" stroke-width=".800">5</text><text x="895.96" y="1076.9" fill="#F5A22D" stroke="#F5A22D" stroke-width=".800">6</text><text x="914.97" y="1078.9" fill="#F5A22D" stroke="#F5A22D" stroke-width=".800">7</text><text x="933.98" y="1035.9" fill="#F5A22D" stroke="#F5A22D" stroke-width=".800">8</text><text x="952.99" y="1011.9" fill="#0E9A0E" stroke="#0E9A0E" stroke-width=".800">9</text><polyline points="21.5,1064 40.51,1062 59.52,1057 78.53,1051 97.54,1052 116.55,1056 135.56,1065 154.57,1071 173.58,1076 192.59,1077 211.6,1077.5 230.61,1069 249.62,1062.5 268.63,1056 287.64,1054 306.65,1053 325.66,1052.5 344.67,1044 363.68,1036 382.69,1023.14 401.7,1015.09 420.71,1005.24 439.72,998.15 458.73,993.97 477.74,996.58 496.75,1006.4 515.76,1021.56 534.77,1040.53 553.78,1057.17 572.79,1075.7 591.8,1096.98 610.81,1125.18 629.82,1147.43 648.83,1161.42 667.84,1174.35 686.85,1188.42 705.86,1200.77 724.87,1212.67 743.88,1223.13 762.89,1240.44 781.9,1256.15 800.91,1270.15 819.92,1284.54 838.93,1301.66 857.94,1309.47 876.95,1305.51 895.96,1294.85 914.97,1284.15 933.98,1272.92 952.99,1263.07 972,1250.04 991.01,1232.01 1010.02,1216.26 1029.03,1205.61 1048.04,1194.16" fill="none" stroke="#F0566F" stroke-width="3" stroke-linejoin="round" stroke-linecap="round"/><polyline points="59.52,1467 78.53,1449.5 97.54,1431 116.55,1413 135.56,1394.5 154.57,1376 173.58,1357.5 192.59,1336 211.6,1314.5 230.61,1293 249.62,1269.5 268.63,1245.5 287.64,1225 306.65,1205 325.66,1185 344.67,1165 363.68,1146 382.69,1126 401.7,1110 420.71,1099 439.72,1089.5 458.73,1087 477.74,1090.5 496.75,1090.5 515.76,1092.5 534.77,1093.75 553.78,1095.5 572.79,1094.5 591.8,1094 610.81,1094.5 629.82,1097 648.83,1098 667.84,1100.5 686.85,1102 705.86,1103.75 724.87,1105.5 743.88,1108 762.89,1110.5 781.9,1112 800.91,1112.3 819.92,1113 838.93,1116 857.94,1118.5 876.95,1122.5 895.96,1126 914.97,1131 933.98,1135 952.99,1139 972,1140.5 991.01,1141.75 1010.02,1142 1029.03,1140.5 1048.04,1141.3" fill="none" stroke="#62C043" stroke-width="3" stroke-linejoin="round" stroke-linecap="round"/><polyline points="724.87,1474.39 743.88,1468.55 762.89,1462.71 781.9,1456.87 800.91,1451.03 819.92,1446.2 838.93,1441.43 857.94,1436.65 876.95,1429.49 895.96,1422.33 914.97,1415.16 933.98,1407.95 952.99,1400.74 972,1393.52 991.01,1385.62 1010.02,1377.54 1029.03,1369.45 1048.04,1361.6" fill="none" stroke="#2F79B8" stroke-width="3" stroke-linejoin="round" stroke-linecap="round"/><polyline points="21.5,1129 40.51,1144 59.52,1146 78.53,1139 97.54,1132 116.55,1131 135.56,1133 154.57,1107.5 173.58,1077 192.59,1048.28 211.6,1024.66 230.61,992.74 249.62,980.15 268.63,975.85 287.64,979.18 306.65,975.8 325.66,975.58 344.67,982.51 363.68,992.38 382.69,997.99 401.7,1005.52 420.71,1017.73 439.72,1016.14 458.73,1012.1 477.74,1013.97 496.75,1037 515.76,1067.53 534.77,1098.56 553.78,1121.97 572.79,1153.42 591.8,1188.44 610.81,1232.63 629.82,1278.72 648.83,1310.75 667.84,1334.74 686.85,1339.85 705.86,1334 724.87,1326.78 743.88,1324.29 762.89,1327.47 781.9,1323.86 800.91,1307.67 819.92,1290.37 838.93,1292.58 857.94,1284.2 876.95,1271.17 895.96,1255.71 914.97,1241.52 933.98,1221.55 952.99,1198.67 972,1176.23 991.01,1156.36 1010.02,1142.14 1029.03,1118.64 1048.04,1104.12" fill="none" stroke="#ECA219" stroke-width="3" stroke-linejoin="round" stroke-linecap="round"/><polyline points="21.5,1182.5 40.51,1211 59.52,1188 78.53,1148 97.54,1103.73 116.55,1082.61 135.56,1054.44 154.57,1024.56 173.58,1009.72 192.59,992.83 211.6,966.71 230.61,931.05 249.62,935.74 268.63,941.98 287.64,965.53 306.65,984.89 325.66,1020.11 344.67,1029.27 363.68,1042.78 382.69,1030.44 401.7,1026.15 420.71,1015.35 439.72,1003.01 458.73,981.42 477.74,997.5 496.75,1047.85 515.76,1119.72 534.77,1194.11 553.78,1262.52 572.79,1309.33 591.8,1329.03 610.81,1345.55 629.82,1363.32 648.83,1358.97 667.84,1360.15 686.85,1350.66 705.86,1322.44 724.87,1290.25 743.88,1289.6 762.89,1294.8 781.9,1297.06 800.91,1292.89 819.92,1290.5 838.93,1295.56 857.94,1273.59 876.95,1245.29 895.96,1218.52 914.97,1192.55 933.98,1147.54 952.99,1123.74 972,1107.16 991.01,1094.21 1010.02,1091.73 1029.03,1089.75 1048.04,1084.51" fill="none" stroke="#111111" stroke-width="3" stroke-linejoin="round" stroke-linecap="round"/><g fill="none" stroke="#111" stroke-width="2.400"><path d="M244 777.300H192.500M210.400 768l-18.400 9.300 18.400 9.500"/><path d="M578 1495h51M610.500 1485.500l19 9.500-19 9.500"/></g></g></svg>
<span class="t" style="left:264.54px;top:770.82px;font-size:29.52px;color:#111;transform:scaleX(1.0308)">3494.87</span>
<span class="t" style="left:447.84px;top:1481.02px;font-size:26.84px;color:#111;transform:scaleX(1.1306)">3140.98</span>
<span class="t" style="left:23.37px;top:778.66px;font-size:34.32px;color:#9B9B9B;transform:scaleX(0.9799);-webkit-text-stroke:0.5px #9B9B9B;paint-order:stroke fill">3510.39</span>
<span class="t" style="left:24.49px;top:938.77px;font-size:33.62px;color:#9B9B9B;transform:scaleX(0.9878);-webkit-text-stroke:0.5px #9B9B9B;paint-order:stroke fill">3414.16</span>
<span class="t" style="left:24.49px;top:1115.57px;font-size:33.62px;color:#9B9B9B;transform:scaleX(0.9878);-webkit-text-stroke:0.5px #9B9B9B;paint-order:stroke fill">3317.93</span>
<span class="t" style="left:24.48px;top:1292.49px;font-size:33.47px;color:#9B9B9B;transform:scaleX(0.9929);-webkit-text-stroke:0.5px #9B9B9B;paint-order:stroke fill">3221.69</span>
<span class="t" style="left:24.49px;top:1461.77px;font-size:33.62px;color:#9B9B9B;transform:scaleX(0.9878);-webkit-text-stroke:0.5px #9B9B9B;paint-order:stroke fill">3125.46</span>
<span class="t" style="left:11.43px;top:1517.27px;font-size:32.68px;color:#9B9B9B;transform:scaleX(1.1043);-webkit-text-stroke:0.5px #9B9B9B;paint-order:stroke fill">2024/11/27</span>
<span class="t" style="left:887.44px;top:1517.27px;font-size:32.68px;color:#9B9B9B;transform:scaleX(1.1018);-webkit-text-stroke:0.5px #9B9B9B;paint-order:stroke fill">2025/02/20</span>
<svg class="s" style="left:15px;top:1420px" width="270" height="90" viewBox="15 1420 270 90">
<circle cx="56.700" cy="1464" r="36" fill="rgba(232,232,232,.82)"/>
<circle cx="233" cy="1464" r="36" fill="rgba(232,232,232,.82)"/>
<g fill="none" stroke="#5A5A5A" stroke-width="3.800">
<path d="M42.500 1448.500l15.500 15.500-15.500 15.500M59 1448.500l15.500 15.500-15.500 15.500"/>
<path d="M217 1461.500v-11.600h14.500M249 1466.500v11.600h-14.500" stroke-width="4.400"/>
</g></svg>
<svg class="s" style="left:0px;top:1540px" width="1080" height="262" viewBox="0 1540 1080 262"><rect x="13.100" y="1546.300" width="1054.200" height="251.200" fill="none" stroke="#E4E4E4" stroke-width="1.600"/><line x1="14.500" x2="1066" y1="1670.500" y2="1670.500" stroke="#E6E6E6" stroke-width="1.300" stroke-dasharray="5 5"/><rect x="15.8" y="1672.75" width="11.600" height="123.5" fill="#fff" stroke="#E2444B" stroke-width="2.100"/><rect x="34.21" y="1675" width="12.600" height="121.7" fill="#2E6B14"/><rect x="53.82" y="1651.75" width="11.600" height="144.5" fill="#fff" stroke="#E2444B" stroke-width="2.100"/><rect x="72.83" y="1641.75" width="11.600" height="154.5" fill="#fff" stroke="#E2444B" stroke-width="2.100"/><rect x="91.84" y="1647.75" width="11.600" height="148.5" fill="#fff" stroke="#E2444B" stroke-width="2.100"/><rect x="110.25" y="1655" width="12.600" height="141.7" fill="#2E6B14"/><rect x="129.86" y="1673.75" width="11.600" height="122.5" fill="#fff" stroke="#E2444B" stroke-width="2.100"/><rect x="148.87" y="1647.75" width="11.600" height="148.5" fill="#fff" stroke="#E2444B" stroke-width="2.100"/><rect x="167.28" y="1656.7" width="12.600" height="140" fill="#2E6B14"/><rect x="186.29" y="1610" width="12.600" height="186.7" fill="#2E6B14"/><rect x="205.9" y="1646.05" width="11.600" height="150.2" fill="#fff" stroke="#E2444B" stroke-width="2.100"/><rect x="224.91" y="1636.75" width="11.600" height="159.5" fill="#fff" stroke="#E2444B" stroke-width="2.100"/><rect x="243.32" y="1610.7" width="12.600" height="186" fill="#2E6B14"/><rect x="262.33" y="1649" width="12.600" height="147.7" fill="#2E6B14"/><rect x="281.34" y="1669" width="12.600" height="127.7" fill="#2E6B14"/><rect x="300.95" y="1679.35" width="11.600" height="116.9" fill="#fff" stroke="#E2444B" stroke-width="2.100"/><rect x="319.96" y="1674.35" width="11.600" height="121.9" fill="#fff" stroke="#E2444B" stroke-width="2.100"/><rect x="338.97" y="1667.05" width="11.600" height="129.2" fill="#fff" stroke="#E2444B" stroke-width="2.100"/><rect x="357.38" y="1660" width="12.600" height="136.7" fill="#2E6B14"/><rect x="376.99" y="1681.75" width="11.600" height="114.5" fill="#fff" stroke="#E2444B" stroke-width="2.100"/><rect x="395.4" y="1681.7" width="12.600" height="115" fill="#2E6B14"/><rect x="415.01" y="1683.75" width="11.600" height="112.5" fill="#fff" stroke="#E2444B" stroke-width="2.100"/><rect x="434.02" y="1668.75" width="11.600" height="127.5" fill="#fff" stroke="#E2444B" stroke-width="2.100"/><rect x="453.03" y="1682.75" width="11.600" height="113.5" fill="#fff" stroke="#E2444B" stroke-width="2.100"/><rect x="471.44" y="1677.3" width="12.600" height="119.4" fill="#2E6B14"/><rect x="490.45" y="1665" width="12.600" height="131.7" fill="#2E6B14"/><rect x="509.46" y="1681.7" width="12.600" height="115" fill="#2E6B14"/><rect x="528.47" y="1699" width="12.600" height="97.7" fill="#2E6B14"/><rect x="548.08" y="1701.75" width="11.600" height="94.5" fill="#fff" stroke="#E2444B" stroke-width="2.100"/><rect x="567.09" y="1686.75" width="11.600" height="109.5" fill="#fff" stroke="#E2444B" stroke-width="2.100"/><rect x="585.5" y="1701.7" width="12.600" height="95" fill="#2E6B14"/><rect x="604.51" y="1696" width="12.600" height="100.7" fill="#2E6B14"/><rect x="624.12" y="1707.75" width="11.600" height="88.5" fill="#fff" stroke="#E2444B" stroke-width="2.100"/><rect x="643.13" y="1679.35" width="11.600" height="116.9" fill="#fff" stroke="#E2444B" stroke-width="2.100"/><rect x="661.54" y="1694" width="12.600" height="102.7" fill="#2E6B14"/><rect x="680.55" y="1686.7" width="12.600" height="110" fill="#2E6B14"/><rect x="700.16" y="1697.55" width="11.600" height="98.7" fill="#fff" stroke="#E2444B" stroke-width="2.100"/><rect x="718.57" y="1694.7" width="12.600" height="102" fill="#2E6B14"/><rect x="737.58" y="1692" width="12.600" height="104.7" fill="#2E6B14"/><rect x="756.59" y="1697.6" width="12.600" height="99.1" fill="#2E6B14"/><rect x="775.6" y="1678.8" width="12.600" height="117.9" fill="#2E6B14"/><rect x="795.21" y="1693.05" width="11.600" height="103.2" fill="#fff" stroke="#E2444B" stroke-width="2.100"/><rect x="813.62" y="1697.6" width="12.600" height="99.1" fill="#2E6B14"/><rect x="832.63" y="1682.8" width="12.600" height="113.9" fill="#2E6B14"/><rect x="852.24" y="1668.65" width="11.600" height="127.6" fill="#fff" stroke="#E2444B" stroke-width="2.100"/><rect x="871.25" y="1631.85" width="11.600" height="164.4" fill="#fff" stroke="#E2444B" stroke-width="2.100"/><rect x="890.26" y="1649.55" width="11.600" height="146.7" fill="#fff" stroke="#E2444B" stroke-width="2.100"/><rect x="908.67" y="1657.9" width="12.600" height="138.8" fill="#2E6B14"/><rect x="928.28" y="1656.05" width="11.600" height="140.2" fill="#fff" stroke="#E2444B" stroke-width="2.100"/><rect x="946.69" y="1642.4" width="12.600" height="154.3" fill="#2E6B14"/><rect x="966.3" y="1652.45" width="11.600" height="143.8" fill="#fff" stroke="#E2444B" stroke-width="2.100"/><rect x="985.31" y="1633.65" width="11.600" height="162.6" fill="#fff" stroke="#E2444B" stroke-width="2.100"/><rect x="1003.72" y="1644.2" width="12.600" height="152.5" fill="#2E6B14"/><rect x="1023.33" y="1648.85" width="11.600" height="147.4" fill="#fff" stroke="#E2444B" stroke-width="2.100"/><rect x="1041.74" y="1703" width="12.600" height="93.7" fill="#2E6B14"/><polyline points="21.5,1653.3 40.51,1657.7 59.52,1660 78.53,1660 97.54,1659.3 116.55,1659.3 135.56,1660.7 154.57,1661.7 173.58,1659 192.59,1653.3 211.6,1650 230.61,1646 249.62,1641.7 268.63,1642.7 287.64,1645 306.65,1648.3 325.66,1649.3 344.67,1650 363.68,1650 382.69,1656 401.7,1660.7 420.71,1666 439.72,1670.7 458.73,1676 477.74,1676 496.75,1675 515.76,1675 534.77,1678.3 553.78,1680.7 572.79,1682.7 591.8,1684.3 610.81,1686.7 629.82,1689 648.83,1689 667.84,1691 686.85,1692.7 705.86,1693.5 724.87,1692.2 743.88,1693.5 762.89,1694.7 781.9,1693 800.91,1692.2 819.92,1691 838.93,1691 857.94,1687.5 876.95,1681 895.96,1676.7 914.97,1672.3 933.98,1668.7 952.99,1664.8 972,1661.5 991.01,1655.7 1010.02,1651.4 1029.03,1648.5 1048.04,1651.4" fill="none" stroke="#ECA219" stroke-width="2.8" stroke-linejoin="round" stroke-linecap="round"/><polyline points="21.5,1666 40.51,1668.3 59.52,1670 78.53,1664 97.54,1657.7 116.55,1653.3 135.56,1653.3 154.57,1652.3 173.58,1655 192.59,1648.3 211.6,1645 230.61,1638.3 249.62,1631.7 268.63,1630.7 287.64,1642.3 306.65,1649.3 325.66,1657.7 344.67,1667.3 363.68,1670 382.69,1671.7 401.7,1673.3 420.71,1675 439.72,1675 458.73,1680 477.74,1677.3 496.75,1675 515.76,1676 534.77,1680.7 553.78,1684.3 572.79,1687.3 591.8,1694 610.81,1696.7 629.82,1698.3 648.83,1694.3 667.84,1695 686.85,1693.3 705.86,1693 724.87,1689.3 743.88,1693 762.89,1694 781.9,1692.2 800.91,1691 819.92,1692.2 838.93,1690.4 857.94,1684.6 876.95,1674.9 895.96,1665.8 914.97,1657.9 933.98,1653.2 952.99,1647.8 972,1651.4 991.01,1647.8 1010.02,1646 1029.03,1644.2 1048.04,1655.7" fill="none" stroke="#111111" stroke-width="2.8" stroke-linejoin="round" stroke-linecap="round"/></svg>
<div class="r" style="left:24px;top:1557.5px;width:161px;height:46.5px;background:#F1F1F1;border-radius:6px"></div>
<div class="cj" style="left:37.5px;top:1567px;width:105px;height:31px"><span class="ct" style="font-size:33.12px;color:#333333;left:1.500px;top:-1px">成交额</span></div>
<svg class="s" style="left:148px;top:1570px" width="30" height="24" viewBox="148 1570 30 24"><path d="M153.600 1575.300h17.800a1.300 1.300 0 0 1 1 2.100l-8.900 10.200a1.300 1.300 0 0 1-2 0l-8.900-10.200a1.300 1.300 0 0 1 1-2.100z" fill="#555"/></svg>
<div class="cj" style="left:199px;top:1566.5px;width:32.5px;height:32px"><span class="ct" style="font-size:32.5px;color:#2E6B14;font-weight:500">额</span></div>
<span class="t" style="left:234.04px;top:1566.25px;font-size:32.34px;color:#2E6B14;transform:scaleX(1.0180);-webkit-text-stroke:1.1px #2E6B14;paint-order:stroke fill">:4263.6</span>
<div class="cj" style="left:345.5px;top:1566.5px;width:32px;height:32px"><span class="ct" style="font-size:32px;color:#2E6B14;font-weight:500">亿</span></div>
<span class="t" style="left:398.08px;top:1566.04px;font-size:32.77px;color:#111;transform:scaleX(1.0504);-webkit-text-stroke:0.8px #111;paint-order:stroke fill">M5:6431.9</span>
<div class="cj" style="left:562px;top:1566.5px;width:31.5px;height:32px"><span class="ct" style="font-size:31.5px;color:#111;font-weight:500">亿</span></div>
<span class="t" style="left:613.09px;top:1566.04px;font-size:32.77px;color:#ECA11B;transform:scaleX(1.0449);-webkit-text-stroke:0.8px #ECA11B;paint-order:stroke fill">M10:6636.0</span>
<div class="cj" style="left:795.5px;top:1566.5px;width:32px;height:32px"><span class="ct" style="font-size:32px;color:#ECA11B;font-weight:500">亿</span></div>
<div class="cj" style="left:850px;top:1566.5px;width:102px;height:32px"><span class="ct" style="font-size:34px;color:#222;top:-1px">换手率</span></div>
<span class="t" style="left:951.68px;top:1566.46px;font-size:33.12px;color:#222;transform:scaleX(1.4268)">:</span>
<span class="t" style="left:965.15px;top:1566.04px;font-size:32.77px;color:#3AA6EF;transform:scaleX(0.9750);-webkit-text-stroke:0.8px #3AA6EF;paint-order:stroke fill">0.73%</span>
<svg class="s" style="left:0px;top:1800px" width="1080" height="252" viewBox="0 1800 1080 252"><rect x="13.100" y="1802.800" width="1054.200" height="245.200" fill="none" stroke="#E4E4E4" stroke-width="1.600"/><line x1="14.500" x2="1066" y1="1926" y2="1926" stroke="#E6E6E6" stroke-width="1.300" stroke-dasharray="5 5"/><line x1="21.5" x2="21.5" y1="1946.7" y2="2046.7" stroke="#2CA121" stroke-width="3"/><line x1="40.51" x2="40.51" y1="1946.7" y2="2040.7" stroke="#2CA121" stroke-width="3"/><line x1="59.52" x2="59.52" y1="1946.7" y2="2023.3" stroke="#2CA121" stroke-width="3"/><line x1="78.53" x2="78.53" y1="1946.7" y2="1999.3" stroke="#2CA121" stroke-width="3"/><line x1="97.54" x2="97.54" y1="1946.7" y2="1979.3" stroke="#2CA121" stroke-width="3"/><line x1="116.55" x2="116.55" y1="1946.7" y2="1969.3" stroke="#2CA121" stroke-width="3"/><line x1="135.56" x2="135.56" y1="1946.7" y2="1961.7" stroke="#2CA121" stroke-width="3"/><line x1="154.57" x2="154.57" y1="1946.7" y2="1948.7" stroke="#2CA121" stroke-width="3"/><line x1="173.58" x2="173.58" y1="1946.7" y2="1940.7" stroke="#E0343A" stroke-width="3"/><line x1="192.59" x2="192.59" y1="1946.7" y2="1931.7" stroke="#E0343A" stroke-width="3"/><line x1="211.6" x2="211.6" y1="1946.7" y2="1925" stroke="#E0343A" stroke-width="3"/><line x1="230.61" x2="230.61" y1="1946.7" y2="1916" stroke="#E0343A" stroke-width="3"/><line x1="249.62" x2="249.62" y1="1946.7" y2="1931" stroke="#E0343A" stroke-width="3"/><line x1="268.63" x2="268.63" y1="1946.7" y2="1944.3" stroke="#E0343A" stroke-width="3"/><line x1="287.64" x2="287.64" y1="1946.7" y2="1959.3" stroke="#2CA121" stroke-width="3"/><line x1="306.65" x2="306.65" y1="1946.7" y2="1964.3" stroke="#2CA121" stroke-width="3"/><line x1="325.66" x2="325.66" y1="1946.7" y2="1971" stroke="#2CA121" stroke-width="3"/><line x1="344.67" x2="344.67" y1="1946.7" y2="1975" stroke="#2CA121" stroke-width="3"/><line x1="363.68" x2="363.68" y1="1946.7" y2="1982.3" stroke="#2CA121" stroke-width="3"/><line x1="382.69" x2="382.69" y1="1946.7" y2="1974" stroke="#2CA121" stroke-width="3"/><line x1="401.7" x2="401.7" y1="1946.7" y2="1967.7" stroke="#2CA121" stroke-width="3"/><line x1="420.71" x2="420.71" y1="1946.7" y2="1962.7" stroke="#2CA121" stroke-width="3"/><line x1="439.72" x2="439.72" y1="1946.7" y2="1958.7" stroke="#2CA121" stroke-width="3"/><line x1="458.73" x2="458.73" y1="1946.7" y2="1954" stroke="#2CA121" stroke-width="3"/><line x1="477.74" x2="477.74" y1="1946.7" y2="1966.7" stroke="#2CA121" stroke-width="3"/><line x1="496.75" x2="496.75" y1="1946.7" y2="1997.7" stroke="#2CA121" stroke-width="3"/><line x1="515.76" x2="515.76" y1="1946.7" y2="2029" stroke="#2CA121" stroke-width="3"/><line x1="534.77" x2="534.77" y1="1946.7" y2="2045" stroke="#2CA121" stroke-width="3"/><line x1="553.78" x2="553.78" y1="1946.7" y2="2044" stroke="#2CA121" stroke-width="3"/><line x1="572.79" x2="572.79" y1="1946.7" y2="2039" stroke="#2CA121" stroke-width="3"/><line x1="591.8" x2="591.8" y1="1946.7" y2="2034.3" stroke="#2CA121" stroke-width="3"/><line x1="610.81" x2="610.81" y1="1946.7" y2="2038.3" stroke="#2CA121" stroke-width="3"/><line x1="629.82" x2="629.82" y1="1946.7" y2="2037.3" stroke="#2CA121" stroke-width="3"/><line x1="648.83" x2="648.83" y1="1946.7" y2="2009.3" stroke="#2CA121" stroke-width="3"/><line x1="667.84" x2="667.84" y1="1946.7" y2="1991" stroke="#2CA121" stroke-width="3"/><line x1="686.85" x2="686.85" y1="1946.7" y2="1974" stroke="#2CA121" stroke-width="3"/><line x1="705.86" x2="705.86" y1="1946.7" y2="1959" stroke="#2CA121" stroke-width="3"/><line x1="724.87" x2="724.87" y1="1946.7" y2="1947.8" stroke="#2CA121" stroke-width="3"/><line x1="743.88" x2="743.88" y1="1946.7" y2="1938.5" stroke="#E0343A" stroke-width="3"/><line x1="762.89" x2="762.89" y1="1946.7" y2="1940.3" stroke="#E0343A" stroke-width="3"/><line x1="781.9" x2="781.9" y1="1946.7" y2="1935.6" stroke="#E0343A" stroke-width="3"/><line x1="800.91" x2="800.91" y1="1946.7" y2="1925.8" stroke="#E0343A" stroke-width="3"/><line x1="819.92" x2="819.92" y1="1946.7" y2="1920.8" stroke="#E0343A" stroke-width="3"/><line x1="838.93" x2="838.93" y1="1946.7" y2="1923" stroke="#E0343A" stroke-width="3"/><line x1="857.94" x2="857.94" y1="1946.7" y2="1913.6" stroke="#E0343A" stroke-width="3"/><line x1="876.95" x2="876.95" y1="1946.7" y2="1899.5" stroke="#E0343A" stroke-width="3"/><line x1="895.96" x2="895.96" y1="1946.7" y2="1887.2" stroke="#E0343A" stroke-width="3"/><line x1="914.97" x2="914.97" y1="1946.7" y2="1883.2" stroke="#E0343A" stroke-width="3"/><line x1="933.98" x2="933.98" y1="1946.7" y2="1875.6" stroke="#E0343A" stroke-width="3"/><line x1="952.99" x2="952.99" y1="1946.7" y2="1877.8" stroke="#E0343A" stroke-width="3"/><line x1="972" x2="972" y1="1946.7" y2="1878.9" stroke="#E0343A" stroke-width="3"/><line x1="991.01" x2="991.01" y1="1946.7" y2="1880" stroke="#E0343A" stroke-width="3"/><line x1="1010.02" x2="1010.02" y1="1946.7" y2="1893.3" stroke="#E0343A" stroke-width="3"/><line x1="1029.03" x2="1029.03" y1="1946.7" y2="1896.2" stroke="#E0343A" stroke-width="3"/><line x1="1048.04" x2="1048.04" y1="1946.7" y2="1903.4" stroke="#E0343A" stroke-width="3"/><polyline points="21.5,1858.3 40.51,1868.3 59.52,1876.7 78.53,1883.3 97.54,1888.3 116.55,1891.7 135.56,1893.3 154.57,1893.3 173.58,1892.3 192.59,1890 211.6,1887.3 230.61,1884.3 249.62,1882.3 268.63,1881.7 287.64,1883.3 306.65,1885.7 325.66,1888.3 344.67,1892.3 363.68,1898.3 382.69,1901 401.7,1904 420.71,1906 439.72,1907.3 458.73,1908.3 477.74,1910.7 496.75,1917.3 515.76,1928.3 534.77,1940 553.78,1951.7 572.79,1964.3 591.8,1976 610.81,1986.7 629.82,1997.3 648.83,2006 667.84,2011 686.85,2014 705.86,2016 724.87,2015.4 743.88,2014.3 762.89,2013.6 781.9,2012.5 800.91,2009.3 819.92,2006 838.93,2003.5 857.94,1999.9 876.95,1993.7 895.96,1986.5 914.97,1978.2 933.98,1969.2 952.99,1961.2 972,1952.9 991.01,1943.9 1010.02,1937.8 1029.03,1932 1048.04,1926.6" fill="none" stroke="#F0733A" stroke-width="3" stroke-linejoin="round" stroke-linecap="round"/><polyline points="21.5,1908.3 40.51,1915 59.52,1916 78.53,1910.7 97.54,1904.3 116.55,1902.3 135.56,1900 154.57,1893.3 173.58,1889.3 192.59,1883.3 211.6,1877.3 230.61,1869 249.62,1875.7 268.63,1881.7 287.64,1890.7 306.65,1896 325.66,1901.7 344.67,1907.3 363.68,1915 382.69,1915 401.7,1915 420.71,1914 439.72,1913.3 458.73,1912.7 477.74,1920.7 496.75,1945 515.76,1968.3 534.77,1989.3 553.78,2001.7 572.79,2010.7 591.8,2019.3 610.81,2032.7 629.82,2042.7 648.83,2036.7 667.84,2032.7 686.85,2026.7 705.86,2022.6 724.87,2016 743.88,2010.7 762.89,2010.7 781.9,2007 800.91,1999.9 819.92,1993.7 838.93,1993 857.94,1983.6 876.95,1970.3 895.96,1957.3 914.97,1947.5 933.98,1934.9 952.99,1927.6 972,1919.7 991.01,1912.5 1010.02,1911.8 1029.03,1907.8 1048.04,1905.3" fill="none" stroke="#2B2B2B" stroke-width="3" stroke-linejoin="round" stroke-linecap="round"/></svg>
<div class="r" style="left:24px;top:1816px;width:296px;height:46.5px;background:#F1F1F1;border-radius:6px"></div>
<span class="t" style="left:34.83px;top:1819.82px;font-size:39.69px;color:#333333;transform:scaleX(0.8819);-webkit-text-stroke:0.4px #333333;paint-order:stroke fill">MACD(12,26,9)</span>
<svg class="s" style="left:285px;top:1828px" width="28" height="22" viewBox="285 1828 28 22"><path d="M290 1832.500h15.800a1.300 1.300 0 0 1 1 2.100l-7.900 9.200a1.300 1.300 0 0 1-2 0l-7.900-9.200a1.300 1.300 0 0 1 1-2.100z" fill="#555"/></svg>
<svg class="s" style="left:328px;top:1818px" width="40" height="40" viewBox="328 1818 40 40"><circle cx="347.500" cy="1837.500" r="16" fill="none" stroke="#B5B5B5" stroke-width="2.600"/></svg>
<span class="t" style="left:340.6px;top:1823.68px;font-size:27.78px;color:#B0B0B0;transform:scaleX(0.8809);-webkit-text-stroke:0.6px #B0B0B0;paint-order:stroke fill">?</span>
<span class="t" style="left:379.91px;top:1816.12px;font-size:34.6px;color:#E0343A;transform:scaleX(1.0013);-webkit-text-stroke:0.5px #E0343A;paint-order:stroke fill">MACD:+20.57</span>
<span class="t" style="left:614.98px;top:1816.12px;font-size:34.6px;color:#333333;transform:scaleX(0.9765);-webkit-text-stroke:0.5px #333333;paint-order:stroke fill">DIFF:+18.73</span>
<div class="cj" style="left:841px;top:1817.5px;width:214px;height:32.5px"><span class="ct" style="font-size:35.1px;color:#3B8EE6;top:-1px;left:1.500px">特色指标数据</span></div>
<span class="t" style="left:21.46px;top:1858.04px;font-size:31.78px;color:#F0733A;transform:scaleX(1.0721);-webkit-text-stroke:0.5px #F0733A;paint-order:stroke fill">DEA:+8.45</span>
<div class="r" style="left:0px;top:2055px;width:1080px;height:11.5px;background:#F4F4F4"></div>
<div class="cj" style="left:42.5px;top:2104.5px;width:95px;height:46.9px"><span class="ct" style="font-size:47.5px;color:#222;font-weight:700">新闻</span></div>
<div class="cj" style="left:204px;top:2105px;width:128.5px;height:40.63px"><span class="ct" style="font-size:42.83px;color:#666666">成分股</span></div>
<div class="cj" style="left:400px;top:2105px;width:130px;height:41.37px"><span class="ct" style="font-size:43.33px;color:#666666">论大盘</span></div>
<div class="cj" style="left:599px;top:2105px;width:86px;height:41.64px"><span class="ct" style="font-size:43px;color:#666666">资金</span></div>
<div class="cj" style="left:755px;top:2105px;width:85px;height:40.71px"><span class="ct" style="font-size:42.5px;color:#666666">社区</span></div>
<div class="cj" style="left:912.5px;top:2105px;width:83.5px;height:39.96px"><span class="ct" style="font-size:41.75px;color:#666666">异动</span></div>
<div class="cj" style="left:1063px;top:2105px;width:41px;height:42px"><span class="ct" style="font-size:41px;color:#DADADA">筹</span></div>
<div class="r" style="left:0px;top:2122.5px;width:1080px;height:285.5px;background:#232323"></div>
<svg class="s" style="left:100px;top:2140px" width="880" height="230" viewBox="100 2140 880 230">
<g fill="none" stroke-width="2.700">
<rect x="112" y="2150.800" width="44.600" height="45.600" rx="6.500" stroke="#E62E37"/>
<rect x="381" y="2149.800" width="45.600" height="45.600" rx="6.500" stroke="#E62E37"/>
<rect x="651.900" y="2150" width="44.800" height="45.600" stroke="#D9D9D9"/>
<path d="M661.500 2172.800h26" stroke="#D9D9D9"/>
<circle cx="944.200" cy="2173" r="24.300" stroke="#D9D9D9"/>
<path d="M932.600 2166h23.600M932.600 2179.800h23.600" stroke="#D9D9D9"/>
</g>
<g fill="none" stroke="#828282" stroke-width="3" stroke-linecap="round" stroke-linejoin="round">
<path d="M264.500 2325.500h35M264.500 2341.500h35M264.500 2357.500h35" stroke-linecap="butt"/>
<rect x="534" y="2325.500" width="32" height="32" rx="7.500"/>
<path d="M830.500 2327.500v28.600a1.500 1.500 0 0 1-2.300 1.300l-26-14.400a1.500 1.500 0 0 1 0-2.600l26-14.200a1.500 1.500 0 0 1 2.300 1.300z"/>
</g></svg>
<div class="cj" style="left:121.5px;top:2158.5px;width:27.2px;height:29.8px"><span class="ct" style="font-size:27.2px;color:#EE2C38;font-weight:700;top:1px">买</span></div>
<div class="cj" style="left:390.6px;top:2157.5px;width:27.2px;height:29px"><span class="ct" style="font-size:27.2px;color:#EE2C38;font-weight:700;top:1px">期</span></div>
<div class="cj" style="left:83.3px;top:2212.5px;width:104.3px;height:34.2px"><span class="ct" style="font-size:34.77px;color:#D9D9D9">买指数</span></div>
<div class="cj" style="left:352.5px;top:2213.5px;width:104.2px;height:34px"><span class="ct" style="font-size:34.73px;color:#D9D9D9">买期货</span></div>
<div class="cj" style="left:622.6px;top:2213.5px;width:105px;height:34px"><span class="ct" style="font-size:35px;color:#D9D9D9">删自选</span></div>
<div class="cj" style="left:910.4px;top:2213.5px;width:68.8px;height:34px"><span class="ct" style="font-size:34.4px;color:#D9D9D9">功能</span></div>
</div></body></html>
